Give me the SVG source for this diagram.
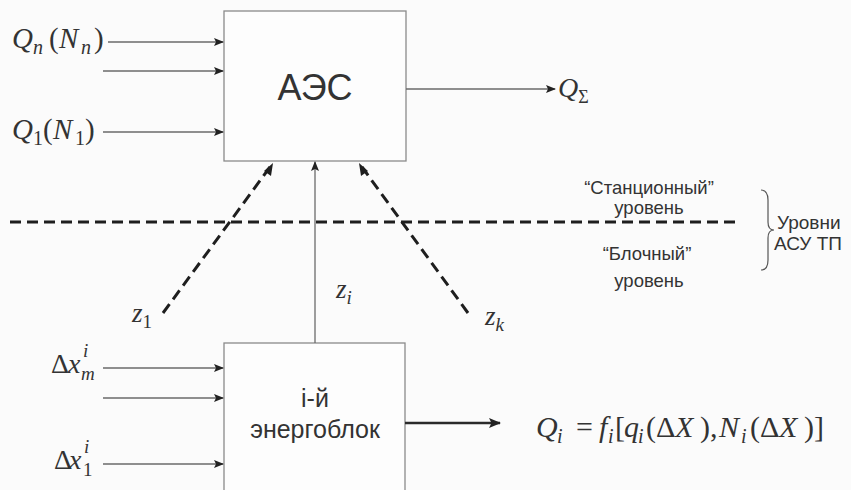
<svg xmlns="http://www.w3.org/2000/svg" width="851" height="490" viewBox="0 0 851 490">
  <style>
    .box { fill: #fdfdfd; stroke: #8a8a8a; stroke-width: 1.3; }
    .wire { stroke: #6a6a6a; stroke-width: 1.3; fill: none; }
    .dash { stroke: #1e1e1e; stroke-width: 3; stroke-dasharray: 11 6; fill: none; }
    .sans { font-family: "Liberation Sans", Arial, sans-serif; fill: #333; }
    .math { font-family: "Liberation Serif", "Times New Roman", serif; fill: #333; }
    .it { font-style: italic; }
    .sub { font-size: 20px; }
  </style>
  <defs>
    <marker id="arr" markerWidth="10" markerHeight="8" refX="9" refY="4" orient="auto" markerUnits="userSpaceOnUse">
      <path d="M0,0 L10,4 L0,8 L2,4 Z" fill="#222"/>
    </marker>
    <marker id="arrB" markerWidth="12" markerHeight="10" refX="11" refY="5" orient="auto" markerUnits="userSpaceOnUse">
      <path d="M0,0 L12,5 L0,10 L2.5,5 Z" fill="#222"/>
    </marker>
  </defs>
  <rect width="851" height="490" fill="#fbfbfb"/>

  <!-- level separator -->
  <line class="dash" x1="10" y1="222" x2="740" y2="222"/>

  <g id="aes">
    <rect class="box" x="224" y="11" width="182" height="150"/>
    <text class="sans" x="315" y="100" font-size="36" text-anchor="middle" fill="#2a2a2a">АЭС</text>
  </g>

  <g id="unit">
    <rect class="box" x="224" y="343" width="181" height="160"/>
    <text class="sans" x="315" y="407" font-size="25" text-anchor="middle">і-й</text>
    <text class="sans" x="315" y="438" font-size="25" text-anchor="middle">энергоблок</text>
  </g>

  <g id="connectors">
    <line class="wire" x1="108" y1="42" x2="223" y2="42" marker-end="url(#arr)"/>
    <line class="wire" x1="103" y1="71" x2="223" y2="71" marker-end="url(#arr)"/>
    <line class="wire" x1="103" y1="132" x2="223" y2="132" marker-end="url(#arr)"/>
    <line class="wire" x1="406" y1="89" x2="555" y2="89" marker-end="url(#arr)"/>
    <line class="wire" x1="315" y1="343" x2="315" y2="162" marker-end="url(#arr)"/>
    <line class="dash" x1="163" y1="313" x2="270" y2="167"/>
    <path d="M273,163 L271,176 L264,171 Z" fill="#1e1e1e"/>
    <line class="dash" x1="468" y1="313" x2="362" y2="167"/>
    <path d="M359,163 L368,171 L361,176 Z" fill="#1e1e1e"/>
    <line class="wire" x1="103" y1="368" x2="223" y2="368" marker-end="url(#arr)"/>
    <line class="wire" x1="103" y1="398" x2="223" y2="398" marker-end="url(#arr)"/>
    <line class="wire" x1="103" y1="464" x2="223" y2="464" marker-end="url(#arr)"/>
    <line x1="405" y1="423" x2="500" y2="423" stroke="#2a2a2a" stroke-width="2.4" marker-end="url(#arrB)"/>
  </g>

  <!-- inputs of the station -->
  <text class="math" y="48" font-size="29"><tspan class="it" x="12">Q</tspan><tspan class="it sub" x="33" y="54">n</tspan><tspan x="49" y="48">(</tspan><tspan class="it" x="59">N</tspan><tspan class="it sub" x="81" y="54">n</tspan><tspan x="94" y="48">)</tspan></text>
  <text class="math" y="139" font-size="29"><tspan class="it" x="12">Q</tspan><tspan class="sub" x="33" y="145">1</tspan><tspan x="43" y="139">(</tspan><tspan class="it" x="53">N</tspan><tspan class="sub" x="75" y="145">1</tspan><tspan x="85" y="139">)</tspan></text>
  <text class="math" x="558" y="97" font-size="28"><tspan class="it">Q</tspan><tspan font-size="18" dy="6">Σ</tspan></text>

  <!-- coordination signals -->
  <text class="math it" x="132" y="322" font-size="27">z<tspan font-size="19" dy="6" font-style="normal">1</tspan></text>
  <text class="math it" x="336" y="298" font-size="27">z<tspan font-size="19" dy="6">i</tspan></text>
  <text class="math it" x="485" y="325" font-size="27">z<tspan font-size="19" dy="6">k</tspan></text>

  <!-- level labels -->
  <text class="sans" x="649" y="194" font-size="18.5" text-anchor="middle">“Станционный”</text>
  <text class="sans" x="649" y="214" font-size="18.5" text-anchor="middle">уровень</text>
  <text class="sans" x="647" y="260" font-size="18.5" text-anchor="middle">“Блочный”</text>
  <text class="sans" x="649" y="287" font-size="18.5" text-anchor="middle">уровень</text>
  <path d="M761,190 Q768,190 768,200 L768,222 Q768,230 774,230 Q768,230 768,238 L768,260 Q768,270 761,270" fill="none" stroke="#555" stroke-width="1.2"/>
  <text class="sans" x="777" y="229" font-size="19">Уровни</text>
  <text class="sans" x="774" y="250" font-size="19">АСУ ТП</text>

  <!-- inputs of the power unit -->
  <text class="math" y="373" font-size="28"><tspan x="51">Δ</tspan><tspan class="it" x="68">x</tspan><tspan class="it" font-size="19" x="83" y="357">i</tspan><tspan class="it" font-size="19" x="81" y="380">m</tspan></text>
  <text class="math" y="469" font-size="28"><tspan x="54">Δ</tspan><tspan class="it" x="69">x</tspan><tspan class="it" font-size="19" x="84" y="453">i</tspan><tspan font-size="19" x="83" y="476">1</tspan></text>

  <!-- unit output -->
  <text class="math" y="437" font-size="30"><tspan class="it" x="536">Q</tspan><tspan class="it sub" x="557" y="443">i</tspan><tspan x="576" y="437">=</tspan><tspan class="it" x="599">f</tspan><tspan class="it sub" x="608" y="443">i</tspan><tspan x="615" y="437">[</tspan><tspan class="it" x="624">q</tspan><tspan class="it sub" x="638" y="443">i</tspan><tspan x="646" y="437">(Δ</tspan><tspan class="it" x="675">X</tspan><tspan x="700">),</tspan><tspan class="it" x="719">N</tspan><tspan class="it sub" x="741" y="443">i</tspan><tspan x="750" y="437">(Δ</tspan><tspan class="it" x="779">X</tspan><tspan x="804">)]</tspan></text>
</svg>
